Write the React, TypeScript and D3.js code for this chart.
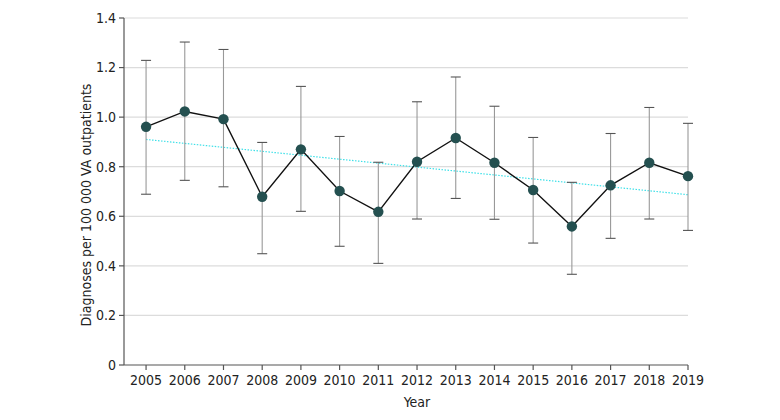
import React from 'react';
import * as d3 from 'd3';

// Values
const years = [2005, 2006, 2007, 2008, 2009, 2010, 2011, 2012, 2013, 2014, 2015, 2016, 2017, 2018, 2019];
const rates = [0.961, 1.023, 0.992, 0.679, 0.870, 0.702, 0.618, 0.820, 0.916, 0.816, 0.706, 0.559, 0.725, 0.816, 0.762];
const upper = [1.229, 1.303, 1.273, 0.898, 1.124, 0.922, 0.818, 1.062, 1.162, 1.044, 0.918, 0.737, 0.934, 1.039, 0.975];
const lower = [0.689, 0.745, 0.719, 0.449, 0.620, 0.479, 0.410, 0.589, 0.672, 0.588, 0.492, 0.366, 0.511, 0.589, 0.543];
const trend = [0.910, 0.687]; // fitted values at first and last year
const yTicks = [0, 0.2, 0.4, 0.6, 0.8, 1.0, 1.2, 1.4];

const width = 780;
const height = 420;
const margin = { top: 18, right: 92, bottom: 55, left: 124 };
const font = '"Liberation Sans Narrow", "DejaVu Sans Condensed", "Noto Sans", sans-serif';
const fs = 14;

export default function App() {
  const x = d3.scaleLinear()
    .domain([2004.43, 2019])
    .range([margin.left, width - margin.right]);
  const y = d3.scaleLinear()
    .domain([0, 1.4])
    .range([height - margin.bottom, margin.top]);

  const line = d3.line<number>()
    .x((_, i) => x(years[i]))
    .y(d => y(d));

  const fmt = (v: number) => (v === 0 ? '0' : v.toFixed(1));
  const cap = 5;

  return (
    <svg width={width} height={height} style={{ display: 'block', position: 'absolute', left: 0, top: 0 }}>
      <rect width={width} height={height} fill="#fff" />
      {/* grid */}
      {yTicks.filter(t => t > 0).map(t => (
        <line key={t} x1={x.range()[0]} x2={x.range()[1]} y1={y(t)} y2={y(t)}
          stroke="#dcdcdc" strokeWidth={1.2} />
      ))}
      {/* trend line */}
      <line x1={x(years[0])} x2={x(years[years.length - 1])} y1={y(trend[0])} y2={y(trend[1])}
        stroke="#3ee0e8" strokeWidth={1.2} strokeDasharray="1.5,1.5" />
      {/* error bars */}
      {years.map((yr, i) => (
        <g key={yr} stroke="#7a7a7a" strokeWidth={1.1}>
          <line x1={x(yr)} x2={x(yr)} y1={y(upper[i])} y2={y(lower[i])} stroke="#999" />
          <line x1={x(yr) - cap} x2={x(yr) + cap} y1={y(upper[i])} y2={y(upper[i])} stroke="#555" />
          <line x1={x(yr) - cap} x2={x(yr) + cap} y1={y(lower[i])} y2={y(lower[i])} stroke="#555" />
        </g>
      ))}
      {/* series */}
      <path d={line(rates) ?? ''} fill="none" stroke="#111" strokeWidth={1.4} />
      {years.map((yr, i) => (
        <circle key={yr} cx={x(yr)} cy={y(rates[i])} r={5.2} fill="#245050" />
      ))}
      {/* y axis */}
      <line x1={margin.left} x2={margin.left} y1={y(1.4)} y2={y(0)} stroke="#555" strokeWidth={1.2} />
      {yTicks.map(t => (
        <g key={t}>
          <line x1={margin.left - 5} x2={margin.left} y1={y(t)} y2={y(t)} stroke="#555" strokeWidth={1.2} />
          <text x={margin.left - 8} y={y(t)} dy="0.35em" textAnchor="end"
            fontFamily={font} fontSize={fs} fill="#222">{fmt(t)}</text>
        </g>
      ))}
      {/* x axis */}
      <line x1={x.range()[0]} x2={x.range()[1]} y1={y(0)} y2={y(0)} stroke="#555" strokeWidth={1.2} />
      {years.map(yr => (
        <g key={yr}>
          <line x1={x(yr)} x2={x(yr)} y1={y(0)} y2={y(0) + 5} stroke="#555" strokeWidth={1.2} />
          <text x={x(yr)} y={y(0) + 15} dy="0.35em" textAnchor="middle"
            fontFamily={font} fontSize={fs} fill="#222">{yr}</text>
        </g>
      ))}
      <text x={x(2012)} y={402} dy="0.35em" textAnchor="middle" fontFamily={font} fontSize={fs} fill="#222">Year</text>
      <text transform={`translate(86,205) rotate(-90)`} dy="0.35em" textAnchor="middle"
        fontFamily={font} fontSize={fs} fill="#222">Diagnoses per 100 000 VA outpatients</text>
    </svg>
  );
}
